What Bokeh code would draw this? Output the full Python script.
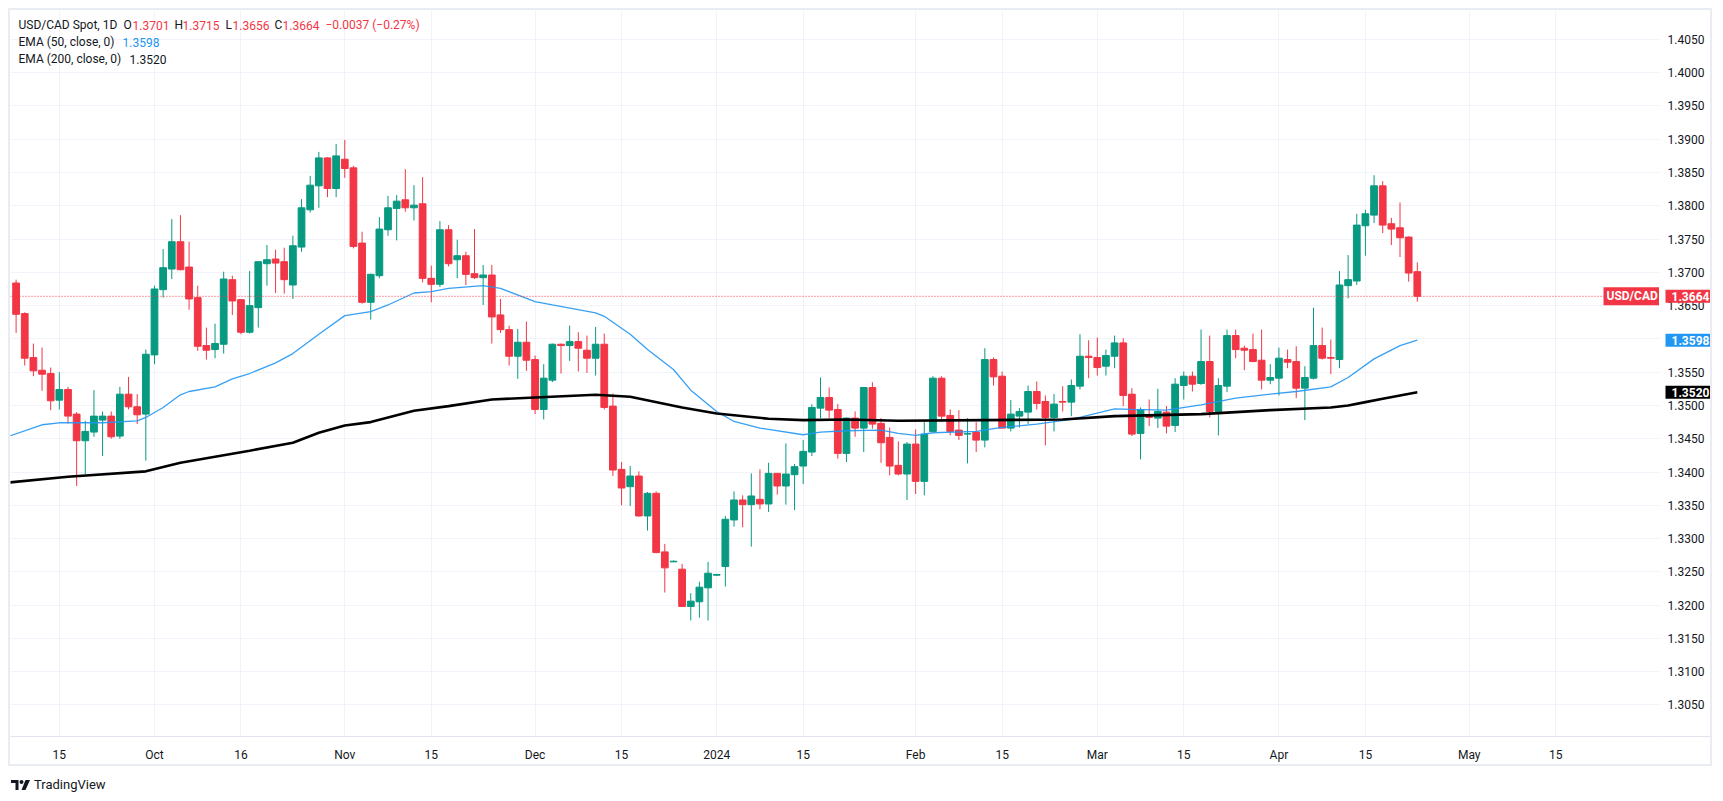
import numpy as np
import pandas as pd
from bokeh.plotting import figure
from bokeh.models import (ColumnDataSource, Range1d, FixedTicker, Label, Span, Div, LinearAxis)
from bokeh.layouts import column, row
from bokeh.core.properties import value
from bokeh.embed import file_html
from bokeh.resources import INLINE

# ---------------- data ----------------
start_date = "2023-09-08"
end_date = "2024-04-23"

opens = [1.3684,1.3638,1.3572,1.3553,1.3548,1.3508,1.3524,1.3487,1.3447,1.3460,
         1.3478,1.3484,1.3454,1.3517,1.3498,1.3487,1.3576,1.3674,1.3705,1.3746,
         1.3708,1.3662,1.3590,1.3584,1.3592,1.3689,1.3659,1.3610,1.3647,1.3713,
         1.3720,1.3716,1.3681,1.3738,1.3794,1.3830,1.3872,1.3826,1.3870,1.3857,
         1.3744,1.3655,1.3695,1.3764,1.3796,1.3809,1.3797,1.3803,1.3691,1.3682,
         1.3764,1.3719,1.3725,1.3698,1.3692,1.3696,1.3636,1.3614,1.3574,1.3595,
         1.3569,1.3494,1.3538,1.3592,1.3590,1.3596,1.3583,1.3571,1.3592,1.3499,
         1.3404,1.3378,1.3394,1.3334,1.3368,1.3280,1.3265,1.3254,1.3198,1.3205,
         1.3226,1.3245,1.3258,1.3328,1.3358,1.3351,1.3359,1.3352,1.3398,1.3379,
         1.3396,1.3409,1.3430,1.3496,1.3512,1.3494,1.3428,1.3481,1.3466,1.3527,
         1.3473,1.3452,1.3410,1.3397,1.3442,1.3386,1.3461,1.3541,1.3485,1.3463,
         1.3457,1.3460,1.3448,1.3569,1.3544,1.3466,1.3484,1.3490,1.3521,1.3506,
         1.3482,1.3506,1.3505,1.3529,1.3574,1.3572,1.3559,1.3574,1.3594,1.3517,
         1.3458,1.3484,1.3481,1.3490,1.3470,1.3530,1.3544,1.3533,1.3566,1.3491,
         1.3529,1.3605,1.3586,1.3584,1.3568,1.3538,1.3541,1.3569,1.3566,1.3526,
         1.3541,1.3590,1.3572,1.3569,1.3680,1.3687,1.3770,1.3786,1.3830,1.3773,
         1.3767,1.3753,1.3701]

highs = [1.3689,1.3640,1.3593,1.3587,1.3557,1.3550,1.3528,1.3490,1.3477,1.3523,
         1.3491,1.3491,1.3528,1.3543,1.3517,1.3584,1.3680,1.3735,1.3780,1.3786,
         1.3746,1.3680,1.3617,1.3623,1.3701,1.3695,1.3659,1.3702,1.3716,1.3741,
         1.3734,1.3737,1.3755,1.3810,1.3845,1.3881,1.3873,1.3893,1.3899,1.3860,
         1.3761,1.3698,1.3783,1.3815,1.3816,1.3855,1.3831,1.3843,1.3710,1.3777,
         1.3771,1.3749,1.3731,1.3765,1.3711,1.3711,1.3660,1.3620,1.3615,1.3626,
         1.3575,1.3562,1.3593,1.3593,1.3620,1.3610,1.3605,1.3618,1.3608,1.3518,
         1.3415,1.3409,1.3401,1.3370,1.3371,1.3292,1.3267,1.3262,1.3218,1.3235,
         1.3265,1.3247,1.3334,1.3371,1.3365,1.3398,1.3404,1.3414,1.3398,1.3443,
         1.3412,1.3448,1.3502,1.3542,1.3527,1.3502,1.3482,1.3491,1.3527,1.3535,
         1.3481,1.3467,1.3446,1.3445,1.3464,1.3475,1.3544,1.3544,1.3494,1.3493,
         1.3481,1.3475,1.3586,1.3572,1.3551,1.3508,1.3496,1.3530,1.3536,1.3515,
         1.3517,1.3529,1.3539,1.3607,1.3598,1.3602,1.3584,1.3605,1.3601,1.3526,
         1.3497,1.3509,1.3525,1.3499,1.3541,1.3551,1.3551,1.3614,1.3605,1.3541,
         1.3614,1.3614,1.3590,1.3608,1.3614,1.3562,1.3587,1.3584,1.3589,1.3559,
         1.3647,1.3617,1.3599,1.3702,1.3726,1.3788,1.3794,1.3846,1.3837,1.3782,
         1.3805,1.3754,1.3715]

lows = [1.3609,1.3560,1.3544,1.3522,1.3493,1.3494,1.3473,1.3379,1.3397,1.3453,
        1.3424,1.3450,1.3450,1.3494,1.3472,1.3417,1.3562,1.3662,1.3690,1.3703,
        1.3644,1.3582,1.3569,1.3571,1.3578,1.3636,1.3607,1.3608,1.3617,1.3680,
        1.3669,1.3668,1.3660,1.3731,1.3790,1.3797,1.3813,1.3813,1.3842,1.3736,
        1.3653,1.3629,1.3691,1.3755,1.3748,1.3791,1.3778,1.3685,1.3655,1.3678,
        1.3709,1.3691,1.3681,1.3690,1.3651,1.3593,1.3609,1.3560,1.3540,1.3552,
        1.3487,1.3479,1.3535,1.3548,1.3567,1.3551,1.3549,1.3545,1.3494,1.3394,
        1.3350,1.3349,1.3333,1.3312,1.3278,1.3219,1.3265,1.3198,1.3177,1.3181,
        1.3177,1.3244,1.3228,1.3318,1.3317,1.3288,1.3344,1.3340,1.3366,1.3351,
        1.3343,1.3382,1.3424,1.3481,1.3481,1.3420,1.3415,1.3453,1.3430,1.3465,
        1.3414,1.3395,1.3395,1.3358,1.3367,1.3365,1.3460,1.3476,1.3455,1.3448,
        1.3413,1.3430,1.3437,1.3530,1.3466,1.3461,1.3467,1.3472,1.3494,1.3440,
        1.3461,1.3491,1.3484,1.3524,1.3541,1.3545,1.3545,1.3556,1.3499,1.3454,
        1.3419,1.3469,1.3466,1.3458,1.3460,1.3509,1.3521,1.3531,1.3482,1.3455,
        1.3520,1.3571,1.3553,1.3565,1.3524,1.3532,1.3515,1.3556,1.3511,1.3478,
        1.3539,1.3569,1.3547,1.3556,1.3661,1.3681,1.3725,1.3774,1.3759,1.3741,
        1.3723,1.3686,1.3656]

closes = [1.3637,1.3571,1.3552,1.3547,1.3507,1.3524,1.3484,1.3447,1.3461,1.3484,
          1.3484,1.3453,1.3517,1.3498,1.3486,1.3577,1.3675,1.3707,1.3746,1.3704,
          1.3660,1.3589,1.3583,1.3593,1.3690,1.3657,1.3610,1.3650,1.3716,1.3719,
          1.3714,1.3689,1.3740,1.3797,1.3831,1.3872,1.3826,1.3875,1.3856,1.3739,
          1.3655,1.3697,1.3765,1.3797,1.3807,1.3797,1.3801,1.3691,1.3682,1.3764,
          1.3713,1.3725,1.3697,1.3692,1.3696,1.3633,1.3614,1.3574,1.3595,1.3568,
          1.3494,1.3541,1.3592,1.3590,1.3596,1.3586,1.3571,1.3592,1.3497,1.3403,
          1.3376,1.3394,1.3334,1.3368,1.3279,1.3256,1.3266,1.3198,1.3206,1.3227,
          1.3248,1.3246,1.3329,1.3358,1.3351,1.3364,1.3352,1.3398,1.3379,1.3397,
          1.3408,1.3431,1.3497,1.3512,1.3493,1.3428,1.3481,1.3466,1.3527,1.3472,
          1.3444,1.3409,1.3397,1.3442,1.3386,1.3457,1.3541,1.3484,1.3461,1.3455,
          1.3458,1.3448,1.3569,1.3543,1.3466,1.3487,1.3491,1.3521,1.3503,1.3482,
          1.3502,1.3505,1.3530,1.3574,1.3572,1.3557,1.3575,1.3594,1.3515,1.3457,
          1.3494,1.3482,1.3491,1.3469,1.3532,1.3544,1.3532,1.3566,1.3491,1.3530,
          1.3605,1.3584,1.3583,1.3566,1.3538,1.3542,1.3571,1.3565,1.3526,1.3542,
          1.3590,1.3571,1.3571,1.3681,1.3689,1.3771,1.3788,1.3830,1.3771,1.3765,
          1.3752,1.3699,1.3664]

# EMA readings (bar index from start_date, value)
ema50_bar = [-1, 3, 5, 10, 14, 15, 17, 19, 20, 23, 25, 27, 30, 32, 35, 38, 41, 43, 46, 48,
             50, 54, 56, 60, 62, 67, 68, 71, 73, 76, 78, 81, 83, 86, 91, 93, 96, 100, 102,
             104, 106, 111, 114, 118, 122, 127, 129, 133, 137, 141, 145, 148, 152, 154,
             157, 160, 162]
ema50_val = [1.3453, 1.3471, 1.3474, 1.3474, 1.3477, 1.3482, 1.3497, 1.3516, 1.3521, 1.3528,
             1.3540, 1.3548, 1.3564, 1.3578, 1.3607, 1.3635, 1.3641, 1.3651, 1.3669, 1.3671,
             1.3676, 1.3680, 1.3676, 1.3656, 1.3651, 1.3639, 1.3634, 1.3607, 1.3584, 1.3554,
             1.3523, 1.3491, 1.3476, 1.3466, 1.3456, 1.3460, 1.3462, 1.3463, 1.3458, 1.3455,
             1.3459, 1.3461, 1.3467, 1.3472, 1.3479, 1.3495, 1.3494, 1.3493, 1.3501, 1.3511,
             1.3517, 1.3521, 1.3528, 1.3542, 1.3570, 1.3590, 1.3598]

ema200_bar = [-1, 6, 15, 19, 23, 27, 32, 35, 38, 41, 46, 50, 55, 60, 67, 71, 77, 81, 87, 91,
              96, 102, 112, 121, 127, 137, 145, 152, 154, 156, 158, 160, 162]
ema200_val = [1.3384, 1.3393, 1.3401, 1.3414, 1.3423, 1.3432, 1.3444, 1.3459, 1.3470, 1.3475,
              1.3492, 1.3499, 1.3509, 1.3512, 1.3516, 1.3513, 1.3497, 1.3488, 1.3480, 1.3478,
              1.3479, 1.3477, 1.3478, 1.3479, 1.3484, 1.3487, 1.3493, 1.3497, 1.3500, 1.3505,
              1.3510, 1.3515, 1.3520]

tick_dates = ["2023-09-15", "2023-10-02", "2023-10-16", "2023-11-01", "2023-11-15",
              "2023-12-01", "2023-12-15", "2024-01-01", "2024-01-15", "2024-02-01",
              "2024-02-15", "2024-03-01", "2024-03-15", "2024-04-01", "2024-04-15",
              "2024-05-01", "2024-05-15"]
tick_labels = ["15", "Oct", "16", "Nov", "15", "Dec", "15", "2024", "15", "Feb",
               "15", "Mar", "15", "Apr", "15", "May", "15"]
price_ticks = [round(1.3050 + 0.005 * k, 4) for k in range(21)]
price_labels = [f"{t:.4f}" for t in price_ticks]

# ---------------- style / layout constants ----------------
GREEN = "#089981"
RED = "#f23645"
BLUE = "#2196f3"
TXT = "#131722"
FONT = "Roboto"
GRID = "#f0f3fa"
SEP = "#e0e3eb"

PAGE_OFF = 10                    # canvas origin on the page (margin + border)
FRAME_W, FRAME_H = 1649, 728
SCALE_W = 51
BOTTOM_H = 26

X0, X1 = -0.647, 190.0
Y0, Y1 = 1.300262, 1.409345

dates = pd.bdate_range(start_date, end_date)
idx = np.arange(len(dates))
o = np.array(opens); h = np.array(highs); l = np.array(lows); c = np.array(closes)
colors = np.where(c >= o, GREEN, RED)
src = ColumnDataSource(dict(x=idx, o=o, h=h, l=l, c=c,
                            top=np.maximum(o, c), bot=np.minimum(o, c), col=colors))

yr = Range1d(Y0, Y1)

# ---------------- main pane ----------------
p = figure(width=FRAME_W, height=FRAME_H + BOTTOM_H, output_backend="svg",
           toolbar_location=None, x_range=Range1d(X0, X1), y_range=yr,
           y_axis_location=None,
           min_border=0, min_border_left=0, min_border_top=0, min_border_right=0,
           min_border_bottom=BOTTOM_H,
           background_fill_color="white", border_fill_color="white")
p.outline_line_color = None

tick_pos = [int(np.busday_count(start_date, d)) for d in tick_dates]

p.xgrid.ticker = FixedTicker(ticks=tick_pos)
p.ygrid.ticker = FixedTicker(ticks=price_ticks)
p.xgrid.grid_line_color = GRID
p.ygrid.grid_line_color = GRID

xa = p.xaxis[0]
xa.ticker = FixedTicker(ticks=tick_pos)
xa.major_label_overrides = {float(t): lab for t, lab in zip(tick_pos, tick_labels)}
xa.axis_line_color = SEP
xa.axis_line_width = 1
xa.major_tick_line_color = None
xa.minor_tick_line_color = None
xa.major_label_standoff = 5
xa.major_label_text_font = FONT
xa.major_label_text_font_size = "12px"
xa.major_label_text_color = TXT

# candles
p.segment(x0="x", x1="x", y0="l", y1="h", color="col", line_width=1, source=src)
p.vbar(x="x", width=0.78, top="top", bottom="bot", fill_color="col", line_color="col",
       line_width=1, source=src)

# EMAs
p.line(ema50_bar, ema50_val, line_color=BLUE, line_width=1.3, line_alpha=0.9)
p.line(ema200_bar, ema200_val, line_color="black", line_width=2.6)

# last price line
p.add_layout(Span(location=closes[-1], dimension="width", line_color=RED,
                  line_dash="1 2", line_width=1))

def px_x(px):
    return X0 + (px - PAGE_OFF) * (X1 - X0) / FRAME_W

def px_y(py):
    return Y1 - (py - PAGE_OFF) * (Y1 - Y0) / FRAME_H

def txt(s, px, py, color=TXT, size="12px"):
    p.add_layout(Label(x=px_x(px), y=px_y(py), text=s, text_color=color,
                       text_font=FONT, text_font_size=size,
                       text_align="left", text_baseline="middle"))

# legend (top-left)
chg = closes[-1] - opens[-1]
txt("USD/CAD Spot, 1D", 18, 25)
txt("O", 123, 25); txt(f"{opens[-1]:.4f}", 132, 25, RED)
txt("H", 174, 25); txt(f"{highs[-1]:.4f}", 182, 25, RED)
txt("L", 225, 25); txt(f"{lows[-1]:.4f}", 232, 25, RED)
txt("C", 274, 25); txt(f"{closes[-1]:.4f}", 282, 25, RED)
txt(f"\u2212{abs(chg):.4f} (\u2212{abs(chg) / opens[-1] * 100:.2f}%)", 325, 25, RED)
txt("EMA (50, close, 0)", 18, 42); txt(f"{ema50_val[-1]:.4f}", 122, 42, BLUE)
txt("EMA (200, close, 0)", 18, 59); txt(f"{ema200_val[-1]:.4f}", 129, 59, TXT)

# symbol tag (inside pane, left of the price scale)
p.add_layout(Label(x=px_x(1603), y=closes[-1], text="USD/CAD", text_color="white",
                   text_font=FONT, text_font_size="12px", text_font_style="bold",
                   text_align="left", text_baseline="middle",
                   background_fill_color=RED, padding=(3, 3, 2, 2)))

# ---------------- price scale ----------------
s = figure(width=SCALE_W, height=FRAME_H + BOTTOM_H, output_backend="svg",
           toolbar_location=None, x_range=Range1d(0, SCALE_W), y_range=yr,
           x_axis_location=None, y_axis_location=None,
           min_border=0, min_border_left=0, min_border_top=0, min_border_right=0,
           min_border_bottom=BOTTOM_H,
           background_fill_color="white", border_fill_color="white")
s.outline_line_color = None
s.xgrid.visible = False
s.ygrid.visible = False
sep_axis = LinearAxis(ticker=FixedTicker(ticks=[]), axis_line_color=SEP,
                      major_tick_line_color=None, minor_tick_line_color=None,
                      major_label_text_font_size="0px")
s.add_layout(sep_axis, "below")

s.text(x=[8] * len(price_ticks), y=price_ticks, text=price_labels,
       text_font=value(FONT), text_font_size="12px", text_color=TXT,
       text_align="left", text_baseline="middle")

def tag(text, val, bg):
    s.add_layout(Label(x=6, y=val, text=text, text_color="white",
                       text_font=FONT, text_font_size="12px", text_font_style="bold",
                       text_align="left", text_baseline="middle",
                       background_fill_color=bg, padding=(6, 6, 2, 2)))

tag(f"{closes[-1]:.4f}", closes[-1], RED)
tag(f"{ema50_val[-1]:.4f}", ema50_val[-1], BLUE)
tag(f"{ema200_val[-1]:.4f}", ema200_val[-1], "black")

chart = row(p, s, spacing=0, margin=(8, 0, 0, 8),
            styles={"border": "2px solid #e9ecf2"})

logo = Div(text=(
    '<div style="display:flex;align-items:center;font-family:Roboto;font-size:13px;'
    'color:#131722;margin-top:10px;">'
    '<svg width="19" height="12" viewBox="0 0 38 24">'
    '<path d="M0 2h15v20H9V8H0z" fill="#131722"/>'
    '<circle cx="21" cy="6" r="4" fill="#131722"/>'
    '<path d="M29 2h9L29 22h-8z" fill="#131722"/></svg>'
    '<span style="margin-left:4px;">TradingView</span></div>'),
    width=200, height=30, margin=(0, 0, 0, 11))

layout = column(chart, logo, spacing=0)
open("out.html", "w").write(file_html(layout, INLINE))
